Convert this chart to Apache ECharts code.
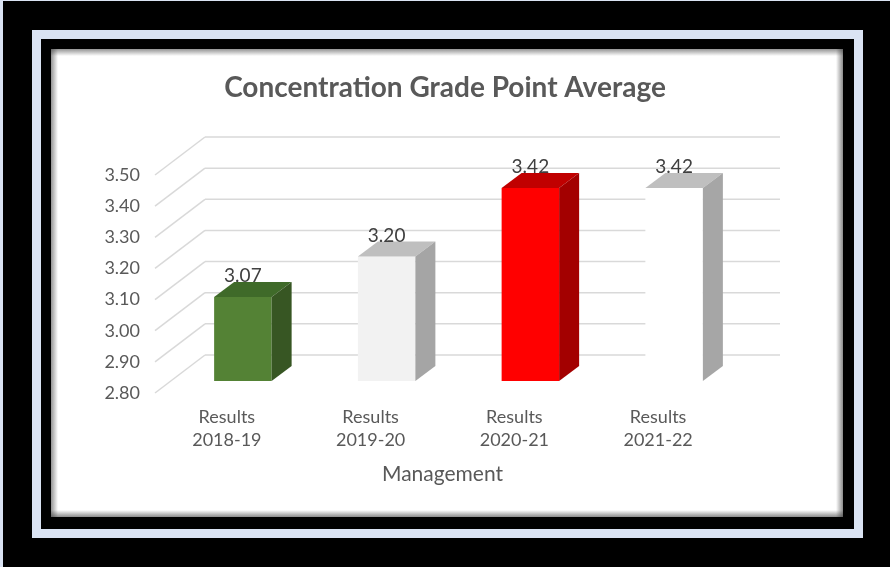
<!DOCTYPE html>
<html>
<head>
<meta charset="utf-8">
<script src="https://cdn.jsdelivr.net/npm/echarts@6/dist/echarts.min.js"></script>
<style>
  html, body { margin: 0; padding: 0; background: #000; }
  #chart { width: 890px; height: 567px; }
</style>
</head>
<body>
<div id="chart"></div>
<script>
// data
const categories = ['Results\n2018-19', 'Results\n2019-20', 'Results\n2020-21', 'Results\n2021-22'];
const gpaValues = [3.07, 3.20, 3.42, 3.42];
const yTicks = [2.8, 2.9, 3.0, 3.1, 3.2, 3.3, 3.4, 3.5];
const yMin = 2.8;
const yMax = 3.5;
const yStep = 0.1;

// front / top / side colour of each bar
const barColors = [
  ['#548235', '#3f6a29', '#375623'],
  ['#f2f2f2', '#bfbfbf', '#a5a5a5'],
  ['#ff0000', '#c00000', '#a30000'],
  ['#ffffff', '#bfbfbf', '#a6a6a6'],
];

// oblique 3d offsets, relative to the plane of the bar fronts
const BAR_DEPTH = [20, -15];
const FRONT_EDGE = [-16, 12];
const BACK_WALL = [34, -26];

const FONT = 'Lato';
const TEXT = '#595959';

const chart = echarts.init(document.getElementById('chart'));

function renderWalls(params, api) {
  const v = api.value(1);
  const y = api.coord([0, v])[1];
  const left = params.coordSys.x;
  const right = left + params.coordSys.width;
  const line = { stroke: '#d9d9d9', lineWidth: 1.5 };
  return {
    type: 'group',
    children: [
      {
        type: 'line',
        shape: { x1: left + BACK_WALL[0], y1: y + BACK_WALL[1], x2: right + BACK_WALL[0], y2: y + BACK_WALL[1] },
        style: line,
      },
      {
        type: 'line',
        shape: { x1: left + FRONT_EDGE[0], y1: y + FRONT_EDGE[1], x2: left + BACK_WALL[0], y2: y + BACK_WALL[1] },
        style: line,
      },
    ],
  };
}

function renderBar(params, api) {
  const idx = api.value(0);
  const val = api.value(1);
  const base = api.coord([idx, yMin]);
  const top = api.coord([idx, val]);
  const bw = api.size([1, 0])[0] * 0.4;
  const x0 = top[0] - bw / 2;
  const x1 = top[0] + bw / 2;
  const dx = BAR_DEPTH[0];
  const dy = BAR_DEPTH[1];
  const c = barColors[idx];
  return {
    type: 'group',
    children: [
      {
        type: 'rect',
        shape: { x: x0, y: top[1], width: bw, height: base[1] - top[1] },
        style: { fill: c[0] },
      },
      {
        type: 'polygon',
        shape: { points: [[x0, top[1]], [x1, top[1]], [x1 + dx, top[1] + dy], [x0 + dx, top[1] + dy]] },
        style: { fill: c[1] },
      },
      {
        type: 'polygon',
        shape: { points: [[x1, top[1]], [x1 + dx, top[1] + dy], [x1 + dx, base[1] + dy], [x1, base[1]]] },
        style: { fill: c[2] },
      },
      {
        type: 'text',
        x: top[0],
        y: top[1] - 21,
        style: {
          text: val.toFixed(2),
          fill: '#404040',
          font: '19px ' + FONT,
          align: 'center',
          verticalAlign: 'middle',
        },
      },
    ],
  };
}

// frame round the chart: light strip, black gap, white panel with inner shadow
const shade = (x, y, w, h, x2, y2) => ({
  type: 'rect',
  silent: true,
  shape: { x: x, y: y, width: w, height: h },
  style: {
    fill: new echarts.graphic.LinearGradient(0, 0, x2, y2, [
      { offset: 0, color: 'rgba(60,60,60,0.55)' },
      { offset: 1, color: 'rgba(60,60,60,0)' },
    ]),
  },
});

const option = {
  backgroundColor: '#000',
  animation: false,
  graphic: {
    elements: [
      { type: 'rect', silent: true, shape: { x: 0, y: 0, width: 890, height: 567 }, style: { fill: '#dae3f3' } },
      { type: 'rect', silent: true, shape: { x: 3, y: 1, width: 887, height: 566 }, style: { fill: '#000' } },
      { type: 'rect', silent: true, shape: { x: 32, y: 30, width: 831, height: 508 }, style: { fill: '#dae3f3' } },
      { type: 'rect', silent: true, shape: { x: 41, y: 39, width: 813, height: 490 }, style: { fill: '#000' } },
      { type: 'rect', silent: true, shape: { x: 51, y: 49, width: 792, height: 468 }, style: { fill: '#fff' } },
      shade(51, 49, 792, 7, 0, 1),
      shade(51, 49, 7, 468, 1, 0),
      {
        type: 'rect', silent: true,
        shape: { x: 51, y: 510, width: 792, height: 7 },
        style: {
          fill: new echarts.graphic.LinearGradient(0, 0, 0, 1, [
            { offset: 0, color: 'rgba(60,60,60,0)' },
            { offset: 1, color: 'rgba(60,60,60,0.6)' },
          ]),
        },
      },
      {
        type: 'rect', silent: true,
        shape: { x: 836, y: 49, width: 7, height: 468 },
        style: {
          fill: new echarts.graphic.LinearGradient(0, 0, 1, 0, [
            { offset: 0, color: 'rgba(60,60,60,0)' },
            { offset: 1, color: 'rgba(60,60,60,0.6)' },
          ]),
        },
      },
    ],
  },
  title: {
    text: 'Concentration Grade Point Average',
    left: 'center',
    top: 74,
    padding: 0,
    textStyle: { fontFamily: FONT, fontWeight: 'bold', fontSize: 28, color: TEXT },
  },
  grid: [
    // plane of the bar fronts
    { left: 171, top: 163, width: 575, height: 218 },
    // front edge of the floor, where the labels sit
    { left: 155, top: 175, width: 575, height: 218 },
  ],
  xAxis: [
    { type: 'category', gridIndex: 0, data: categories, show: false },
    {
      type: 'category',
      gridIndex: 1,
      data: categories,
      axisLine: { show: false },
      axisTick: { show: false },
      axisLabel: { margin: 13, lineHeight: 23, fontSize: 18, fontFamily: FONT, color: TEXT },
      name: 'Management',
      nameLocation: 'middle',
      nameGap: 71,
      nameTextStyle: { fontSize: 21, fontFamily: FONT, color: TEXT },
    },
  ],
  yAxis: [
    { type: 'value', gridIndex: 0, min: yMin, max: yMax, interval: yStep, show: false },
    {
      type: 'value',
      gridIndex: 1,
      min: yMin,
      max: yMax,
      interval: yStep,
      axisLine: { show: false },
      axisTick: { show: false },
      splitLine: { show: false },
      axisLabel: {
        margin: 15,
        fontSize: 18,
        fontFamily: FONT,
        color: TEXT,
        formatter: v => v.toFixed(2),
      },
    },
  ],
  series: [
    {
      type: 'custom',
      name: 'walls',
      xAxisIndex: 0,
      yAxisIndex: 0,
      z: 1,
      silent: true,
      renderItem: renderWalls,
      data: yTicks.map(v => [0, v]),
    },
    {
      type: 'custom',
      name: 'GPA',
      xAxisIndex: 0,
      yAxisIndex: 0,
      z: 3,
      renderItem: renderBar,
      data: gpaValues.map((v, i) => [i, v]),
    },
  ],
};

chart.setOption(option);
</script>
</body>
</html>
